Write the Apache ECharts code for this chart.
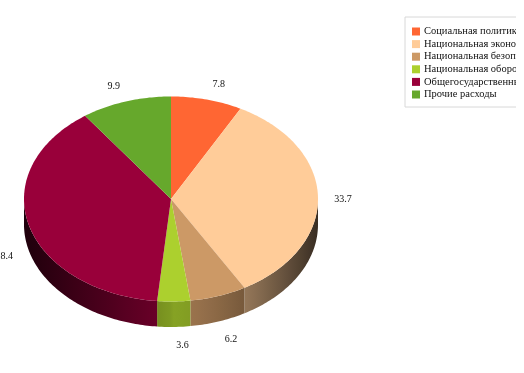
<!DOCTYPE html>
<html>
<head>
<meta charset="utf-8">
<style>
  html, body { margin: 0; padding: 0; background: #fff; }
  #chart { width: 524px; height: 373px; }
</style>
<script src="https://cdn.jsdelivr.net/npm/echarts@6/dist/echarts.min.js"></script>
</head>
<body>
<div id="chart"></div>
<script>
const categories = [
  'Социальная политика',
  'Национальная экономика',
  'Национальная безопасность',
  'Национальная оборона',
  'Общегосударственные вопросы',
  'Прочие расходы'
];
const values = [7.8, 33.7, 6.2, 3.6, 38.4, 9.9];
const colors = ['#ff6633', '#ffcc99', '#cc9966', '#acd02e', '#99003a', '#66a82c'];

// ellipse of the pie top and height of the wall
const cx = 171, cy = 199, rx = 147, ry = 102.5, depth = 25.5;
// small label corrections, same order as values
const labelNudge = [[4, 0], [-8, 2], [2, 3], [8, 3], [7, 1], [-2, 0]];

const total = values.reduce((a, b) => a + b, 0);

function sweep(index) {
  let before = 0;
  for (let i = 0; i < index; i++) before += values[i];
  return [before / total * Math.PI * 2, (before + values[index]) / total * Math.PI * 2];
}

function pt(a, dy) {
  return [cx + rx * Math.sin(a), cy - ry * Math.cos(a) + (dy || 0)];
}

function arc(a0, a1, dy) {
  const n = Math.max(2, Math.ceil((a1 - a0) * 60));
  const pts = [];
  for (let i = 0; i <= n; i++) pts.push(pt(a0 + (a1 - a0) * i / n, dy));
  return pts;
}

function shade(hex, k) {
  const n = parseInt(hex.slice(1), 16);
  const c = [n >> 16, (n >> 8) & 255, n & 255].map(v => Math.round(v * k));
  return 'rgb(' + c.join(',') + ')';
}

// wall gets darker towards the sides of the pie, left side falls off sooner
function wallLight(x) {
  const t = Math.abs(x - cx) / rx;
  return x < cx ? 0.74 - 0.54 * t : 0.78 - 0.56 * Math.pow(t, 1.5);
}

function renderSlice(index, params, api) {
  const [a0, a1] = sweep(index);
  const color = colors[index];
  const children = [];

  // wall only where the front of the pie is visible
  const w0 = Math.max(a0, Math.PI / 2), w1 = Math.min(a1, Math.PI * 1.5);
  if (w1 > w0) {
    const top = arc(w0, w1);
    const bottom = arc(w0, w1, depth).reverse();
    const x0 = top[0][0], x1 = top[top.length - 1][0];
    const lo = Math.min(x0, x1), hi = Math.max(x0, x1);
    const stops = [];
    for (let i = 0; i <= 8; i++) {
      stops.push({ offset: i / 8, color: shade(color, wallLight(lo + (hi - lo) * i / 8)) });
    }
    children.push({
      type: 'polygon',
      shape: { points: top.concat(bottom) },
      style: {
        fill: { type: 'linear', x: lo, y: 0, x2: hi, y2: 0, global: true, colorStops: stops }
      }
    });
  }

  children.push({
    type: 'polygon',
    shape: { points: [[cx, cy]].concat(arc(a0, a1)) },
    style: { fill: color }
  });

  // value label outside the slice
  const mid = (a0 + a1) / 2;
  const lx = cx + 180 * Math.sin(mid) + labelNudge[index][0];
  const ly = cy - 118 * Math.cos(mid) + (Math.cos(mid) < 0 ? depth : 0) + labelNudge[index][1];
  children.push({
    type: 'text',
    style: {
      x: lx, y: ly, text: String(api.value(0)),
      align: 'center', verticalAlign: 'middle',
      font: '10px "Liberation Serif"', fill: '#111'
    }
  });

  return { type: 'group', children: children };
}

const chart = echarts.init(document.getElementById('chart'), null, { renderer: 'canvas' });

chart.setOption({
  animation: false,
  backgroundColor: '#fff',
  legend: {
    orient: 'vertical',
    left: 405,
    top: 17,
    padding: [9, 0, 7, 7],
    itemWidth: 8,
    itemHeight: 8,
    itemGap: 1.6,
    icon: 'rect',
    backgroundColor: '#fff',
    borderColor: '#d8d8d8',
    borderWidth: 1,
    textStyle: { fontFamily: 'Liberation Serif', fontSize: 10.5, color: '#111', padding: [0, 0, 0, -1] },
    data: categories
  },
  series: categories.map((name, i) => ({
    type: 'custom',
    name: name,
    coordinateSystem: 'none',
    itemStyle: { color: colors[i] },
    data: [[values[i]]],
    renderItem: (params, api) => renderSlice(i, params, api)
  })),
  graphic: [
    // legend runs off its box on the right
    { type: 'rect', shape: { x: 516, y: 0, width: 8, height: 373 }, style: { fill: '#fff' }, z: 100 }
  ]
});
</script>
</body>
</html>
